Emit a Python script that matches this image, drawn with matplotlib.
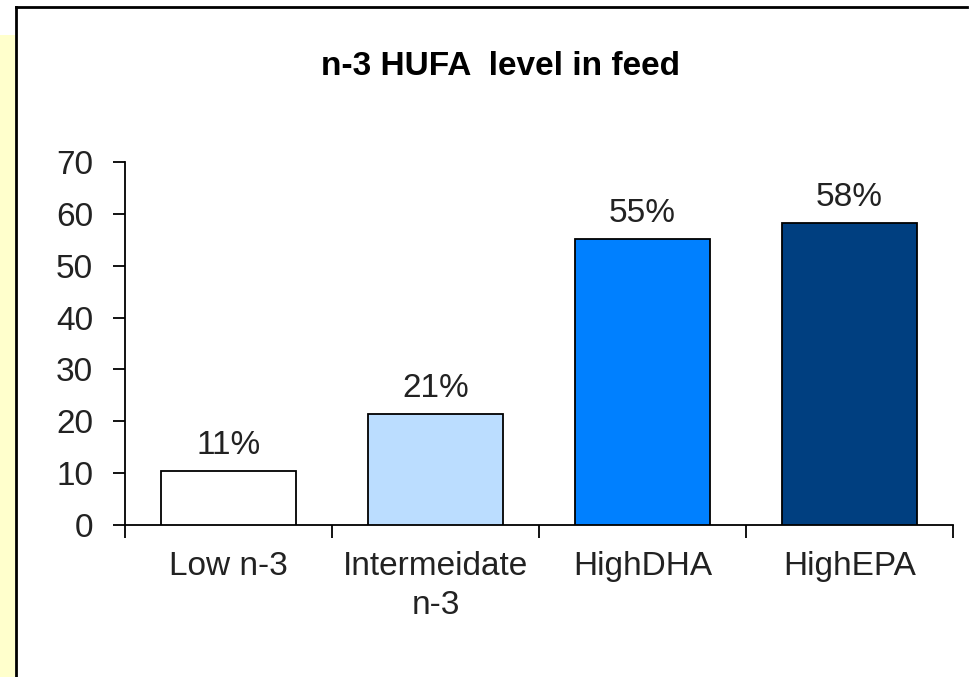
import matplotlib
matplotlib.use("Agg")
import matplotlib.pyplot as plt
from matplotlib.patches import Rectangle
from matplotlib.lines import Line2D

# data
categories = ["Low n-3", "Intermeidate\nn-3", "HighDHA", "HighEPA"]
values = [10.5, 21.5, 55.2, 58.3]
labels = ["11%", "21%", "55%", "58%"]
colors = ["#FFFFFF", "#BBDDFF", "#0080FF", "#003F80"]
yticks = [0, 10, 20, 30, 40, 50, 60, 70]

plt.rcParams['font.family'] = ['Liberation Sans', 'DejaVu Sans']

fig = plt.figure(figsize=(9.72, 6.77), dpi=100)
fig.patch.set_facecolor("white")

# yellow strip on the left and the black frame of the slide box
fig.add_artist(Rectangle((0, 0), 15 / 972, 1 - 35 / 677, transform=fig.transFigure,
                         facecolor="#FFFFCC", edgecolor="none", zorder=0))
fig.add_artist(Line2D([15.5 / 972, 15.5 / 972], [0, 1 - 7 / 677], transform=fig.transFigure,
                      color="black", lw=2.0))
fig.add_artist(Line2D([15.5 / 972, 967 / 972], [1 - 7 / 677, 1 - 7 / 677], transform=fig.transFigure,
                      color="black", lw=2.0))

ax = fig.add_axes([125 / 972, 1 - 525 / 677, (953 - 125) / 972, (525 - 162) / 677])
ax.set_facecolor("none")

x = list(range(len(categories)))
bars = ax.bar(x, values, width=0.65, color=colors, edgecolor="black", linewidth=1.3, zorder=3)
ax.bar_label(bars, labels=labels, padding=7, fontsize=24, color="#222222")

ax.set_xlim(-0.5, len(categories) - 0.5)
ax.set_ylim(0, 70)
ax.set_yticks(yticks)
ax.set_yticklabels([str(t) for t in yticks])

# boundary ticks on x, labels centred under each bar
ax.set_xticks([i - 0.5 for i in range(len(categories) + 1)])
ax.set_xticklabels([])
ax.set_xticks(x, minor=True)
ax.set_xticklabels(categories, minor=True, fontsize=24, color="#222222", linespacing=1.3)
ax.tick_params(axis="x", which="major", direction="out", length=9, width=1.3, color="black")
ax.tick_params(axis="x", which="minor", length=0, pad=19)
ax.tick_params(axis="y", direction="out", length=9, width=1.3, pad=14,
               labelsize=24, labelcolor="#222222")

for s in ["top", "right"]:
    ax.spines[s].set_visible(False)
for s in ["left", "bottom"]:
    ax.spines[s].set_linewidth(1.3)
    ax.spines[s].set_color("black")

fig.text(500 / 972, 1 - 75 / 677, "n-3 HUFA  level in feed", ha="center", va="baseline",
         fontsize=24, fontweight="bold", color="black")

fig.savefig("out.png", dpi=100)
